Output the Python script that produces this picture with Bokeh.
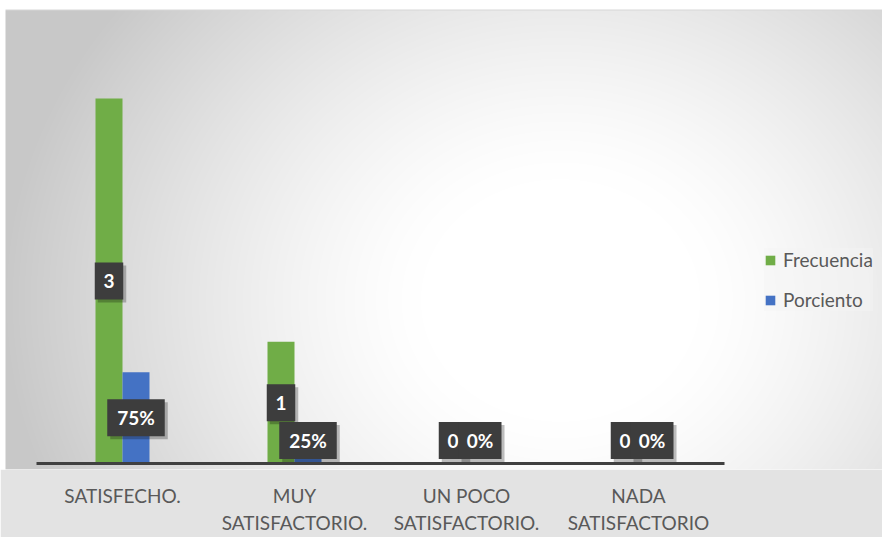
import numpy as np
from bokeh.plotting import figure
from bokeh.models import ColumnDataSource, Range1d, FixedTicker, Legend, LegendItem
from bokeh.transform import dodge
from bokeh.embed import file_html
from bokeh.resources import INLINE
from bokeh.core.properties import value

# ---------------- data ----------------
categories = ["SATISFECHO.", "MUY\nSATISFACTORIO.", "UN POCO\nSATISFACTORIO.", "NADA\nSATISFACTORIO"]
frecuencia = [3, 1, 0, 0]
porciento = [0.75, 0.25, 0.0, 0.0]
frecuencia_labels = ["3", "1", "0", "0"]
porciento_labels = ["75%", "25%", "0%", "0%"]

# ---------------- geometry / style ----------------
FRAME_W, FRAME_H = 882, 469
PX_CAT = 172.0          # pixels per category
PX_UNIT = 121.67        # pixels per value unit
x_start = -36.0 / PX_CAT
x_end = x_start + FRAME_W / PX_CAT
y_start = -6.0 / PX_UNIT
y_end = y_start + FRAME_H / PX_UNIT

GREEN = "#70ad47"
BLUE = "#4472c4"
FONT = "Lato"
TXT = "#595959"

p = figure(frame_width=FRAME_W, frame_height=FRAME_H,
           x_range=Range1d(x_start, x_end), y_range=Range1d(y_start, y_end),
           output_backend="svg", toolbar_location=None, y_axis_location=None,
           min_border=0, outline_line_color=None,
           border_fill_color="#e3e3e3")
p.xgrid.visible = False
p.ygrid.visible = False

# ---------------- radial gradient background ----------------
nx, ny = 882, 469
u = np.arange(nx) + 0.5
v_top = np.arange(ny)[::-1] + 0.5           # row 0 = bottom of image
U, VT = np.meshgrid(u, v_top)
cx, cy = 560.0, 300.0
d = np.sqrt((U - cx) ** 2 + ((VT - cy) * 1.15) ** 2)
t = np.clip((d - 140.0) / 420.0, 0, 1)
g = (255 - (255 - 200) * t ** 1.3)
g = np.where((VT < 9) | (U < 5), 255, g)
g = np.where((VT >= 9) & (VT < 10.5) & (U >= 5), 215, g).astype(np.uint32)
img = (np.uint32(255) << 24) | (g << 16) | (g << 8) | g
p.image_rgba(image=[img.astype(np.uint32)], x=x_start, y=y_start,
             dw=x_end - x_start, dh=y_end - y_start)

# ---------------- bars ----------------
idx = np.arange(len(categories))
off = 13.5 / PX_CAT
bw = 27.0 / PX_CAT
src = ColumnDataSource(dict(
    xg=idx + 0.5 - off, xb=idx + 0.5 + off,
    frec=frecuencia, porc=porciento,
    lf=frecuencia_labels, lp=porciento_labels,
    yf=[max(f / 2.0, 23.0 / PX_UNIT) for f in frecuencia],
    yp=[max(q / 2.0, 23.0 / PX_UNIT) for q in porciento],
    wf=[14 + 14.5 * len(s) for s in frecuencia_labels],
    wp=[14 + 14.5 * len(s) for s in porciento_labels],
))
rg = p.vbar(x="xg", top="frec", bottom=0, width=bw, source=src,
            fill_color=GREEN, line_color=None)
rb = p.vbar(x="xb", top="porc", bottom=0, width=bw, source=src,
            fill_color=BLUE, line_color=None)

# baseline
p.segment(x0=[0], y0=[0], x1=[len(categories)], y1=[0],
          line_color="#404040", line_width=3)

# ---------------- data labels ----------------
sx = 3.0 / PX_CAT
sy = 3.0 / PX_UNIT
for xcol, ycol, wcol, lcol in (("xg", "yf", "wf", "lf"), ("xb", "yp", "wp", "lp")):
    p.rect(x=dodge(xcol, sx), y=dodge(ycol, -sy), width=wcol, height=37,
           width_units="screen", height_units="screen", source=src,
           fill_color="black", fill_alpha=0.25, line_color=None)
    p.rect(x=xcol, y=ycol, width=wcol, height=37,
           width_units="screen", height_units="screen", source=src,
           fill_color="#3d3d3d", line_color=None)
    p.text(x=xcol, y=ycol, text=lcol, source=src,
           text_align="center", text_baseline="middle",
           text_color="white", text_font=value(FONT),
           text_font_style="bold", text_font_size="19px")

# ---------------- axis ----------------
p.xaxis.ticker = FixedTicker(ticks=list(idx + 0.5))
p.xaxis.major_label_overrides = {float(i + 0.5): c for i, c in zip(idx, categories)}
p.xaxis.axis_line_color = None
p.xaxis.major_tick_line_color = None
p.xaxis.minor_tick_line_color = None
p.xaxis.major_tick_out = 0
p.xaxis.major_tick_in = 0
p.xaxis.major_label_standoff = 14
p.xaxis.major_label_text_font = FONT
p.xaxis.major_label_text_font_size = "19px"
p.xaxis.major_label_text_color = TXT

# ---------------- legend ----------------
legend = Legend(items=[LegendItem(label="Frecuencia", renderers=[rg]),
                       LegendItem(label="Porciento", renderers=[rb])],
                location=(764, 158), orientation="vertical",
                label_text_font=FONT, label_text_font_size="19px",
                label_text_color=TXT, glyph_width=12, glyph_height=12,
                label_standoff=7, spacing=17, padding=12, margin=0,
                border_line_color=None, background_fill_color="#f4f4f4",
                background_fill_alpha=0.45)
p.add_layout(legend)

open("out.html", "w").write(file_html(p, INLINE))
